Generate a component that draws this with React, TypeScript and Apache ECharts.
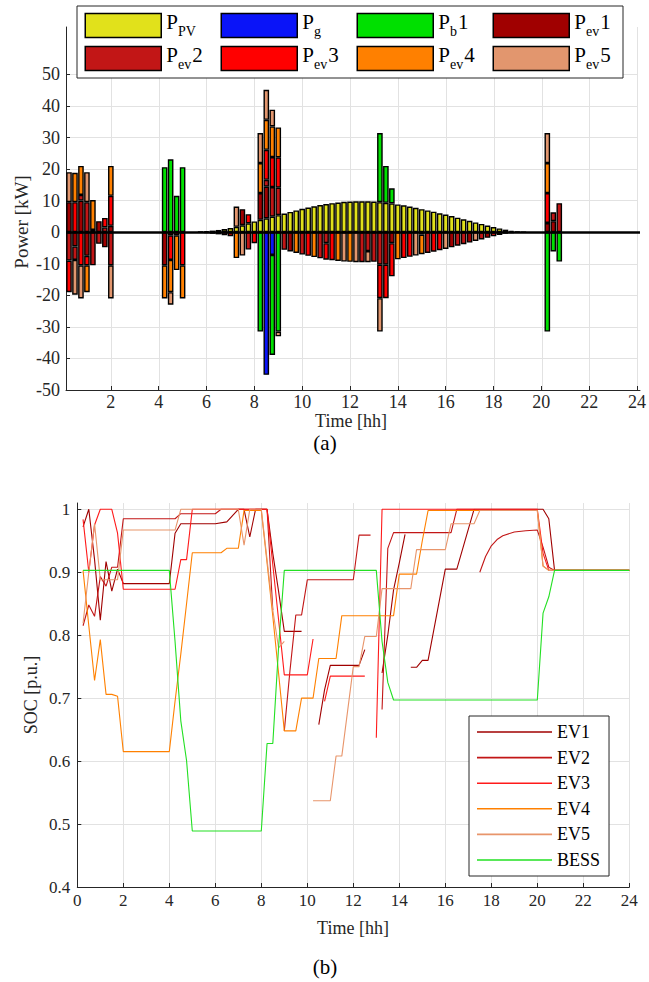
import React, { useEffect, useRef } from "react";
import * as echarts from "echarts";

const FONT = "Liberation Serif";
const SLOT = 0.25;
const slotTimes: number[] = Array.from({ length: 96 }, (_, i) => (i + 1) * SLOT);

// ---- (a) power per 15-min slot [t, kW] (only non-zero slots listed) ----
const pvPower = [[5.75,0.1],[6,0.3],[6.25,0.5],[6.5,0.7],[6.75,1.0],[7,1.3],[7.25,1.7],[7.5,2.2],[7.75,2.8],[8,3.4],[8.25,3.9],[8.5,4.4],[8.75,4.9],[9,5.4],[9.25,5.9],[9.5,6.4],[9.75,6.9],[10,7.4],[10.25,7.8],[10.5,8.2],[10.75,8.6],[11,8.9],[11.25,9.2],[11.5,9.4],[11.75,9.6],[12,9.7],[12.25,9.8],[12.5,9.8],[12.75,9.8],[13,9.7],[13.25,9.5],[13.5,9.3],[13.75,9.1],[14,8.8],[14.25,8.5],[14.5,8.1],[14.75,7.7],[15,7.3],[15.25,6.9],[15.5,6.5],[15.75,6.0],[16,5.6],[16.25,5.1],[16.5,4.6],[16.75,4.1],[17,3.6],[17.25,3.1],[17.5,2.6],[17.75,2.1],[18,1.6],[18.25,1.2],[18.5,0.8],[18.75,0.4],[19,0.2],[19.25,0.05]];
const gridPower = [[8.5,-45.2],[8.75,-7.2]];
const bessPower = [[4.25,20.6],[4.5,23.1],[4.75,11.5],[5,20.6],[8.25,-31.5],[8.75,-31.7],[9,-31.5],[13.25,21.9],[13.5,11.7],[13.75,4.8],[20.25,-31.5],[20.5,-6.1],[20.75,-9.3]];
const ev1Power = [[0.25,9.5],[0.5,-4.5],[0.75,10],[1,-7.5],[1.25,0.7],[1.5,3.5],[1.75,-4.8],[2,2],[4.25,-10.5],[4.5,-1],[6,-0.3],[7,-1.3],[7.5,5.1],[8.25,8.5],[8.5,10],[9.5,-6.1],[13.5,-10.3],[13.75,-3.5],[16.25,-4.8],[17,-3.3],[17.75,-1.8],[18.5,-0.5],[20.25,2.9],[20.5,3.5]];
const ev2Power = [[0.25,-9],[0.5,-4.3],[0.75,1.8],[1,9.5],[1.25,-10.5],[1.5,-3.7],[1.75,1.5],[2,-10.5],[6.25,-0.5],[6.75,-1.0],[7.75,-5.5],[8.5,2.2],[8.75,9.4],[9,8.7],[9.25,-5.6],[10,-7.1],[10.75,-8.3],[11,-3.5],[12.5,-9.5],[12.75,-6],[13,-9.4],[13.25,-10.3],[15.25,-6.6],[16.5,-4.3],[16.75,-3.8],[17.5,-2.3],[18,-1.3],[18.75,-0.2],[20.5,2.8],[20.75,9.2]];
const ev3Power = [[0.25,-10],[0.5,9.5],[0.75,-10.5],[1,-3],[1.75,3],[2,9.5],[4.5,-7.8],[4.75,-1],[5,-10.5],[7.75,2.9],[8,-3.5],[8.5,9.5],[8.75,9.5],[9,9.6],[10.25,-7.5],[11,-5.2],[11.25,-8.9],[13.25,-10.6],[13.5,-10.6],[13.75,-10.5],[14.25,-8.2],[14.5,-7.8],[15,-0.8],[15.5,-6.2],[15.75,-5.7],[18.25,-0.9],[20.25,9.5]];
const ev4Power = [[0.5,9.3],[0.75,9.2],[1,-8.5],[1.25,9.5],[2,9.5],[4.25,-10.5],[4.5,-10.2],[4.75,-11],[5,-10.5],[7.25,-8.2],[8.25,9.5],[8.5,9.5],[8.75,9.7],[9,9.5],[9.75,-6.6],[10.5,-7.9],[11.5,-9.1],[12,-9.4],[14,-8.6],[15,-6.2],[20.25,9.5]];
const ev5Power = [[0.25,9.5],[0.5,-11],[0.75,-10.5],[1,9.5],[2,-10.5],[4.5,-4],[6.5,-0.7],[7.25,6.4],[7.5,-7.4],[8.25,9.5],[8.5,9.5],[8.75,5.3],[9,-1.5],[11.75,-9.3],[12.25,-9.5],[12.75,-3.5],[13.25,-10.6],[14.75,-7.4],[16,-5.3],[17.25,-2.8],[20.25,9.5]];

// ---- (b) state of charge [t, p.u.]; null = not connected ----
const socEv1 = [[0.25,0.972],[0.5,1.0],[0.75,0.92],[1.0,0.824],[1.25,0.917],[1.5,0.87],[1.75,0.905],[2.0,0.882],[4.0,0.882],[4.25,0.962],[4.5,0.977],[6.0,0.977],[6.5,0.98],[7.0,1.0],[7.25,1.0],[7.5,0.956],[7.75,1.0],[8.25,1.0],[8.5,0.93],[8.75,0.87],[9.0,0.806],[9.75,0.806],null,[10.5,0.658],[10.75,0.713],[11.0,0.752],[12.25,0.752],[12.5,0.777],null,[13.25,0.74],[13.5,0.8],[13.75,0.872],[14.0,0.915],[14.25,0.96],null,[14.5,0.749],[14.75,0.749],[15.0,0.76],[15.25,0.76],[16.0,0.905],[16.5,0.905],[17.25,1.0],[20.0,1.0],[20.25,1.0],[20.5,0.985],[20.75,0.903],[24,0.903]];
const socEv2 = [[0.25,0.815],[0.5,0.848],[0.75,0.83],[1.0,0.893],[1.25,0.878],[1.5,0.908],[1.75,0.908],[2.0,0.985],[4.25,0.985],[4.5,0.993],[6.0,0.993],[6.25,1.0],[8.25,1.0],[8.5,0.84],null,[9.0,0.648],[9.25,0.745],[9.5,0.832],[9.75,0.832],[10.0,0.888],[12.0,0.888],[12.25,0.959],[12.75,0.959],null,[13.25,0.682],[13.5,0.938],[13.75,0.963],[16.25,0.963],[16.5,1.0],[17.25,1.0],null,[17.5,0.9],[17.75,0.925],[18.0,0.942],[18.25,0.952],[18.5,0.958],[19.0,0.964],[19.5,0.966],[20.0,0.967],[20.25,0.94],[20.5,0.908],[20.75,0.903],[24,0.903]];
const socEv3 = [[0.25,0.984],[0.5,0.9],[0.75,0.975],[1.0,1.0],[1.5,1.0],[1.75,0.962],[2.0,0.873],[4.25,0.873],[4.5,0.92],[4.75,0.92],[5.0,1.0],[8.25,1.0],[8.5,0.912],[8.75,0.825],[9.0,0.737],[10.0,0.737],[10.25,0.794],null,[10.75,0.695],[11.0,0.735],[12.5,0.735],null,[13.0,0.637],[13.25,1.0],[20.0,1.0],[20.25,0.93],[20.5,0.903],[24,0.903]];
const socEv4 = [[0.25,0.903],[0.5,0.815],[0.75,0.728],[1.0,0.793],[1.25,0.706],[1.5,0.706],[1.75,0.703],[2.0,0.615],[4.0,0.615],[4.25,0.695],[4.5,0.77],[4.75,0.85],[5.0,0.931],[6.25,0.931],[6.5,0.938],[7.0,0.938],[7.25,0.998],[8.0,0.998],[8.25,0.915],[8.5,0.83],[8.75,0.74],[9.0,0.648],[9.5,0.648],[9.75,0.7],[10.25,0.7],[10.5,0.763],[11.25,0.763],[11.5,0.831],[13.75,0.831],[14.0,0.897],[14.75,0.897],[15.0,0.95],[15.25,0.998],[20.0,0.998],[20.25,0.91],[20.5,0.903],[24,0.903]];
const socEv5 = [[0.25,0.819],[0.5,0.9],[0.75,0.977],[1.0,0.888],[1.75,0.888],[2.0,0.967],[4.25,0.967],[4.5,1.0],[7.0,1.0],[7.25,0.943],[7.5,1.0],[8.0,1.0],[8.25,0.92],[8.5,0.84],[8.75,0.78],[9.0,0.79],null,[10.25,0.537],[11.0,0.537],[11.25,0.608],[11.5,0.608],[12.0,0.75],[12.25,0.75],[12.5,0.798],[13.0,0.798],[13.25,0.874],[14.5,0.874],[14.75,0.936],[16.0,0.936],[16.25,0.977],[17.25,0.977],[17.5,0.998],[20.0,0.998],[20.25,0.91],[20.5,0.903],[24,0.903]];
const socBess = [[0.25,0.903],[4.0,0.903],[4.25,0.79],[4.5,0.664],[4.75,0.601],[5.0,0.489],[8.0,0.489],[8.25,0.628],[8.5,0.628],[8.75,0.78],[9.0,0.903],[13.0,0.903],[13.25,0.79],[13.5,0.725],[13.75,0.697],[20.0,0.697],[20.25,0.835],[20.5,0.861],[20.75,0.903],[24,0.903]];

const powerSeries = [
  { name: "PPV", color: "#E1E11B", data: pvPower, label: "{p|P}{s|PV}" },
  { name: "Pg", color: "#0A14F8", data: gridPower, label: "{p|P}{s|g}" },
  { name: "Pb1", color: "#00E000", data: bessPower, label: "{p|P}{s|b}{q|1}" },
  { name: "Pev1", color: "#A00000", data: ev1Power, label: "{p|P}{s|ev}{q|1}" },
  { name: "Pev2", color: "#C21616", data: ev2Power, label: "{p|P}{s|ev}{q|2}" },
  { name: "Pev3", color: "#FF0000", data: ev3Power, label: "{p|P}{s|ev}{q|3}" },
  { name: "Pev4", color: "#FF8000", data: ev4Power, label: "{p|P}{s|ev}{q|4}" },
  { name: "Pev5", color: "#E2966E", data: ev5Power, label: "{p|P}{s|ev}{q|5}" },
];

const socSeries = [
  { name: "EV1", color: "#A00000", data: socEv1 },
  { name: "EV2", color: "#C21616", data: socEv2 },
  { name: "EV3", color: "#FF1A1A", data: socEv3 },
  { name: "EV4", color: "#FF8000", data: socEv4 },
  { name: "EV5", color: "#E8956B", data: socEv5 },
  { name: "BESS", color: "#22E022", data: socBess },
];

const AX = "#262626";
const GRIDC = "#e2e2e2";

function toSlots(list: number[][]) {
  const arr: (number | string)[] = slotTimes.map(() => "-");
  list.forEach(([t, v]) => {
    arr[Math.round(t / SLOT) - 1] = v;
  });
  return arr;
}

function toLine(list: (number[] | null)[]) {
  return list.map((p) => (p === null ? ["-", "-"] : p));
}

function buildOption() {
  const legendCols = [84.5, 220.5, 356.5, 492.5];
  const legendRows = [11, 44];
  const rich = {
    p: { fontSize: 21, fontFamily: FONT, color: "#000", lineHeight: 22, padding: [0, 0, 8, 0] },
    q: { fontSize: 21, fontFamily: FONT, color: "#000", lineHeight: 22, padding: [0, 0, 8, 1] },
    s: { fontSize: 14, fontFamily: FONT, color: "#000", lineHeight: 19, padding: [11, 0, 0, 0] },
  };
  const topLegends = powerSeries.map((s, i) => ({
    data: [s.name],
    left: legendCols[i % 4],
    top: legendRows[Math.floor(i / 4)],
    orient: "horizontal",
    padding: 0,
    itemGap: 0,
    itemWidth: 76,
    itemHeight: 24,
    icon: "rect",
    selectedMode: false,
    z: 20,
    itemStyle: { borderColor: "#000", borderWidth: 1.5 },
    formatter: () => s.label,
    textStyle: { fontFamily: FONT, rich },
  }));

  const bottomLegend = {
    data: socSeries.map((s) => s.name),
    left: 469,
    top: 716,
    orient: "vertical",
    padding: [6, 9, 6, 8],
    itemGap: 5.6,
    itemWidth: 75,
    itemHeight: 1.6,
    icon: "rect",
    selectedMode: false,
    backgroundColor: "#fff",
    borderColor: AX,
    borderWidth: 1,
    borderRadius: 0,
    z: 20,
    textStyle: { fontFamily: FONT, fontSize: 18, color: "#000", lineHeight: 20 },
  };

  const isEvenHour = (_i: number, v: string) => Number(v) % 2 === 0;

  const hiddenAxis = (gridIndex: number) => ({ gridIndex, type: "value", show: false, min: 0, max: 1 });

  const tickLabel = { color: AX, fontFamily: FONT, fontSize: 18 };

  const txt = (text: string, x: number, y: number, size: number, rot = 0, fill = AX) => ({
    type: "text",
    x,
    y,
    rotation: rot,
    style: {
      text,
      fontFamily: FONT,
      fontSize: size,
      fill,
      align: "center",
      verticalAlign: "middle",
      textAlign: "center",
      textVerticalAlign: "middle",
    },
  });

  return {
    animation: false,
    backgroundColor: "#fff",
    textStyle: { fontFamily: FONT },
    grid: [
      { left: 66, top: 27, width: 574.6, height: 363 },
      { left: 110.9, top: 27, width: 526.7, height: 363 },
      { left: 66, top: 74.4, width: 571.6, height: 315.6 },
      { left: 77.3, top: 503, width: 552, height: 384 },
      { left: 77.3, top: 509, width: 552, height: 378 },
    ],
    xAxis: [
      {
        gridIndex: 0,
        type: "category",
        data: slotTimes.map(String),
        boundaryGap: true,
        axisLine: { show: true, onZero: false, lineStyle: { color: AX, width: 1 } },
        axisTick: { show: true, inside: true, length: 4, alignWithLabel: true, interval: isEvenHour, lineStyle: { color: AX } },
        axisLabel: { show: true, interval: isEvenHour, margin: 3, formatter: (v: string) => String(Number(v)), ...tickLabel },
        splitLine: { show: false },
      },
      {
        gridIndex: 1,
        type: "value",
        min: 2,
        max: 24,
        interval: 2,
        axisLine: { show: false },
        axisTick: { show: false },
        axisLabel: { show: false },
        splitLine: { show: true, lineStyle: { color: GRIDC, width: 1 } },
      },
      hiddenAxis(2),
      {
        gridIndex: 3,
        type: "value",
        min: 0,
        max: 24,
        interval: 2,
        axisLine: { show: true, onZero: false, lineStyle: { color: AX, width: 1 } },
        axisTick: { show: true, inside: true, length: 4, lineStyle: { color: AX } },
        axisLabel: { show: true, margin: 5, ...tickLabel, fontSize: 17 },
        splitLine: { show: true, lineStyle: { color: GRIDC, width: 1 } },
      },
      hiddenAxis(4),
    ],
    yAxis: [
      {
        gridIndex: 0,
        type: "value",
        min: -50,
        max: 65,
        axisLine: { show: true, onZero: false, lineStyle: { color: AX, width: 1 } },
        axisTick: { show: false },
        axisLabel: { show: false },
        splitLine: { show: false },
      },
      hiddenAxis(1),
      {
        gridIndex: 2,
        type: "value",
        min: -50,
        max: 50,
        interval: 10,
        axisLine: { show: false },
        axisTick: { show: true, inside: true, length: 4, lineStyle: { color: AX } },
        axisLabel: { show: true, margin: 6, ...tickLabel },
        splitLine: { show: true, lineStyle: { color: GRIDC, width: 1 } },
      },
      {
        gridIndex: 3,
        type: "value",
        min: 0.4,
        max: 1.01,
        axisLine: { show: true, onZero: false, lineStyle: { color: AX, width: 1 } },
        axisTick: { show: false },
        axisLabel: { show: false },
        splitLine: { show: false },
      },
      {
        gridIndex: 4,
        type: "value",
        min: 0.4,
        max: 1.0,
        interval: 0.1,
        axisLine: { show: false },
        axisTick: { show: true, inside: true, length: 4, lineStyle: { color: AX } },
        axisLabel: { show: true, margin: 7, ...tickLabel, fontSize: 17, formatter: (v: number) => String(Math.round(v * 10) / 10) },
        splitLine: { show: true, lineStyle: { color: GRIDC, width: 1 } },
      },
    ],
    legend: [...topLegends, bottomLegend],
    graphic: {
      elements: [
        {
          type: "rect",
          z: 15,
          shape: { x: 77, y: 6, width: 546, height: 72 },
          style: { fill: "#fff", stroke: AX, lineWidth: 1 },
        },
        txt("Power [kW]", 21, 222, 19, Math.PI / 2),
        txt("Time [hh]", 351, 421, 18),
        txt("(a)", 325, 443, 21, 0, "#000"),
        txt("SOC [p.u.]", 31, 695, 18, Math.PI / 2),
        txt("Time [hh]", 353, 928, 18),
        txt("(b)", 325, 967, 21, 0, "#000"),
      ],
    },
    series: [
      ...powerSeries.map((s, i) => ({
        name: s.name,
        type: "bar",
        xAxisIndex: 0,
        yAxisIndex: 0,
        stack: "power",
        barWidth: "94%",
        data: toSlots(s.data),
        itemStyle: { color: s.color, borderColor: "#000", borderWidth: 1.4 },
        emphasis: { disabled: true },
        ...(i === 0
          ? {
              markLine: {
                silent: true,
                symbol: ["none", "none"],
                label: { show: false },
                lineStyle: { color: "#000", width: 2.5, type: "solid" },
                data: [{ yAxis: 0 }],
                z: 10,
              },
            }
          : {}),
      })),
      ...socSeries.map((s) => ({
        name: s.name,
        type: "line",
        xAxisIndex: 3,
        yAxisIndex: 3,
        data: toLine(s.data as (number[] | null)[]),
        showSymbol: false,
        symbol: "none",
        connectNulls: false,
        lineStyle: { color: s.color, width: 1.1 },
        itemStyle: { color: s.color },
        emphasis: { disabled: true },
      })),
    ],
  };
}

export default function App() {
  const ref = useRef<HTMLDivElement>(null);
  useEffect(() => {
    if (!ref.current) return;
    const chart = echarts.init(ref.current, null, { renderer: "svg" });
    chart.setOption(buildOption() as any);
    return () => chart.dispose();
  }, []);
  return <div ref={ref} style={{ position: "absolute", left: 0, top: 0, width: 649, height: 982 }} />;
}
